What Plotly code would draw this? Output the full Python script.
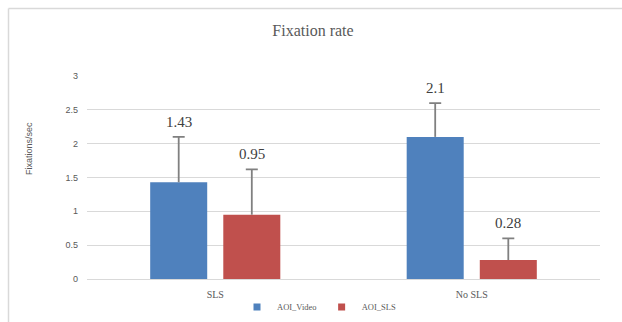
import plotly.graph_objects as go

categories = ["SLS", "No SLS"]
aoi_video = [1.43, 2.1]
aoi_video_err = [0.67, 0.5]
aoi_sls = [0.95, 0.28]
aoi_sls_err = [0.67, 0.32]
series_names = ["AOI_Video", "AOI_SLS"]
y_ticks = [0, 0.5, 1, 1.5, 2, 2.5, 3]

W, H = 622, 322
ML, MR, MT, MB = 87, 22, 76, 43
PW = W - ML - MR
PH = H - MT - MB

BARGAP = 0.43
SERIF = "Liberation Serif, Times New Roman, serif"
SANS = "Liberation Sans, Arial, sans-serif"
GREY = "#595959"
ERRC = "#808080"

fig = go.Figure()
colors = ["#4f81bd", "#c0504d"]
groups = ["g1", "g2"]
series = list(zip(series_names, [aoi_video, aoi_sls], [aoi_video_err, aoi_sls_err], colors, groups))

clear = dict(color="rgba(0,0,0,0)", line=dict(width=0))
for name, vals, errs, col, grp in series:
    # visible bar + upward error line without caps
    fig.add_trace(go.Bar(
        x=categories, y=vals, name=name, offsetgroup=grp, showlegend=False, legendgroup=name,
        marker=dict(color=col, line=dict(width=0)),
        error_y=dict(type="data", symmetric=False, array=errs, arrayminus=[0] * len(errs),
                     color=ERRC, thickness=1.8, width=0),
    ))
for name, vals, errs, col, grp in series:
    # cap only, at the end of the error bar
    fig.add_trace(go.Bar(
        x=categories, y=[v + e for v, e in zip(vals, errs)], name=name + " cap", offsetgroup=grp,
        showlegend=False, marker=clear, hoverinfo="skip",
        error_y=dict(type="data", symmetric=False, array=[0] * len(errs), arrayminus=[0] * len(errs),
                     color=ERRC, thickness=1.8, width=6),
    ))
for name, vals, errs, col, grp in series:
    fig.add_trace(go.Scatter(
        x=[None], y=[None], mode="markers", name=name, legendgroup=name,
        marker=dict(symbol="square", size=7, color=col),
    ))

# data labels above error bars
slot = (1 - BARGAP) / 2
annotations = []
for si, (vals, errs) in enumerate([(aoi_video, aoi_video_err), (aoi_sls, aoi_sls_err)]):
    off = (si - 0.5) * slot
    for ci, (v, e) in enumerate(zip(vals, errs)):
        annotations.append(dict(
            x=ci + off, y=v + e, xref="x", yref="y", text=f"{v:g}", showarrow=False,
            yshift=15, font=dict(family=SERIF, size=15, color="#404040"),
        ))

def px_x(p):
    return (p - ML) / PW

def px_y(p):
    return (MT + PH - p) / PH

annotations.append(dict(
    x=px_x(22), y=px_y(149), xref="paper", yref="paper",
    text="Fixations/sec", textangle=-90, showarrow=False,
    font=dict(family=SANS, size=9, color=GREY),
))

shapes = [
    dict(type="line", xref="paper", yref="paper", x0=px_x(8.5), x1=px_x(W + 5), y0=px_y(8.5), y1=px_y(8.5),
         line=dict(color="#d9d9d9", width=1.5)),
    dict(type="line", xref="paper", yref="paper", x0=px_x(8.5), x1=px_x(8.5), y0=px_y(8.5), y1=px_y(H + 5),
         line=dict(color="#d9d9d9", width=1.5)),
]

fig.update_layout(
    width=W, height=H,
    margin=dict(l=ML, r=MR, t=MT, b=MB, autoexpand=False),
    paper_bgcolor="white", plot_bgcolor="white",
    barmode="group", bargap=BARGAP, bargroupgap=0.22,
    title=dict(text="Fixation rate", x=313 / W, xanchor="center", y=1 - 30 / H, yanchor="middle",
               font=dict(family=SERIF, size=16, color=GREY)),
    xaxis=dict(showgrid=False, showline=False, zeroline=False,
               tickfont=dict(family=SERIF, size=10, color=GREY), ticks="outside", ticklen=6,
               tickcolor="rgba(0,0,0,0)"),
    yaxis=dict(range=[0, 3], tickvals=y_ticks, ticktext=[f"{t:g}" for t in y_ticks],
               showgrid=True, gridcolor="#d9d9d9", gridwidth=1.3, zeroline=True, zerolinecolor="#d9d9d9",
               zerolinewidth=1.3, showline=False,
               tickfont=dict(family=SANS, size=9, color=GREY), ticklabelstandoff=8),
    legend=dict(orientation="h", x=px_x(319), xanchor="center", y=px_y(307), yanchor="middle",
                font=dict(family=SERIF, size=8.5, color=GREY), itemwidth=30, bgcolor="rgba(0,0,0,0)",
                tracegroupgap=0),
    annotations=annotations, shapes=shapes,
)

fig.write_html("out.html", post_script="document.body.style.margin='0';",
               config={"displayModeBar": False})
